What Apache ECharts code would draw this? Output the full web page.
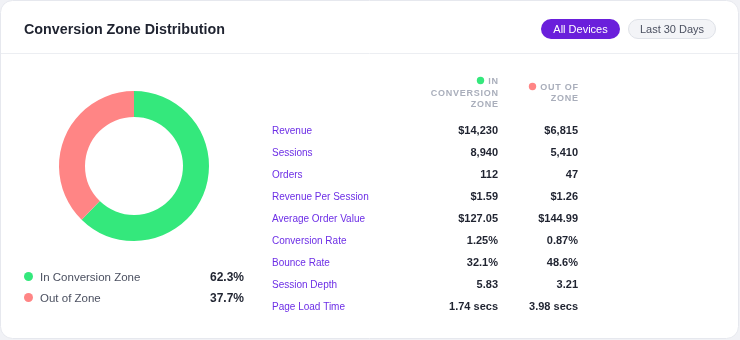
<!DOCTYPE html>
<html>
<head>
<meta charset="utf-8">
<script src="https://cdn.jsdelivr.net/npm/echarts@6/dist/echarts.min.js"></script>
<style>
html,body{margin:0;padding:0;background:#f1f2f6;}
#c{width:740px;height:340px;}
</style>
</head>
<body>
<div id="c"></div>
<script>
const title = "Conversion Zone Distribution";
const buttons = ["All Devices", "Last 30 Days"];
const zoneNames = ["In Conversion Zone", "Out of Zone"];
const zoneShares = [62.3, 37.7];
const zoneColors = ["#34e87c", "#ff8585"];
const columnHeaders = [["IN", "CONVERSION", "ZONE"], ["OUT OF", "ZONE"]];
const metrics = ["Revenue", "Sessions", "Orders", "Revenue Per Session", "Average Order Value", "Conversion Rate", "Bounce Rate", "Session Depth", "Page Load Time"];
const inZone = ["$14,230", "8,940", "112", "$1.59", "$127.05", "1.25%", "32.1%", "5.83", "1.74 secs"];
const outZone = ["$6,815", "5,410", "47", "$1.26", "$144.99", "0.87%", "48.6%", "3.21", "3.98 secs"];

const FONT = '"Liberation Sans", Arial, Helvetica, sans-serif';
const chart = echarts.init(document.getElementById('c'));
const DY = 1;

const g = [];
// card
g.push({type:'rect', shape:{x:0.5,y:0.5,width:738,height:338,r:12}, style:{fill:'#fff', stroke:'#e6e8ee', lineWidth:1}, z:-10});
g.push({type:'line', shape:{x1:1,y1:53.5,x2:738,y2:53.5}, style:{stroke:'#eceef2', lineWidth:1}, z:-5});
g.push({type:'text', x:24, y:29+DY, style:{text:title, font:'bold 14.3px '+FONT, fill:'#1f2330', textVerticalAlign:'middle'}});
// buttons
g.push({type:'rect', shape:{x:541,y:19,width:79,height:20,r:10}, style:{fill:'#6a1fdb'}});
g.push({type:'text', x:580.5, y:29+DY, style:{text:buttons[0], font:'11px '+FONT, fill:'#fff', textAlign:'center', textVerticalAlign:'middle'}});
g.push({type:'rect', shape:{x:628.5,y:19.5,width:87,height:19,r:9.5}, style:{fill:'#f3f4f7', stroke:'#dfe2e8', lineWidth:1}});
g.push({type:'text', x:672, y:29+DY, style:{text:buttons[1], font:'11px '+FONT, fill:'#4b5060', textAlign:'center', textVerticalAlign:'middle'}});

// legend
zoneNames.forEach((n,i)=>{
  const y = 277 + i*21;
  g.push({type:'circle', shape:{cx:28.5,cy:y-0.5,r:4.5}, style:{fill:zoneColors[i]}});
  g.push({type:'text', x:40, y:y+DY, style:{text:n, font:'11.5px '+FONT, fill:'#4b5060', textVerticalAlign:'middle'}});
  g.push({type:'text', x:244, y:y+DY, style:{text:zoneShares[i].toFixed(1)+'%', font:'bold 12px '+FONT, fill:'#1f2330', textAlign:'right', textVerticalAlign:'middle'}});
});

// table headers
const colX = [498, 578];
const hdrY = [[81,93,104],[87,98]];
columnHeaders.forEach((lines,ci)=>{
  lines.forEach((t,li)=>{
    g.push({type:'text', x:colX[ci], y:hdrY[ci][li]+0.5, style:{text:t.split('').join('\u200A'), font:'bold 9px '+FONT, fill:'#a9aebb', textAlign:'right', textVerticalAlign:'middle'}});
  });
});
g.push({type:'circle', shape:{cx:480.5,cy:80.5,r:3.7}, style:{fill:zoneColors[0]}});
g.push({type:'circle', shape:{cx:532.5,cy:86.5,r:3.7}, style:{fill:zoneColors[1]}});

metrics.forEach((m,i)=>{
  const y = 130 + i*22 + DY;
  g.push({type:'text', x:272, y:y, style:{text:m, font:'10px '+FONT, fill:'#6d2fe6', textVerticalAlign:'middle'}});
  g.push({type:'text', x:colX[0], y:y, style:{text:inZone[i], font:'bold 11px '+FONT, fill:'#1f2330', textAlign:'right', textVerticalAlign:'middle'}});
  g.push({type:'text', x:colX[1], y:y, style:{text:outZone[i], font:'bold 11px '+FONT, fill:'#1f2330', textAlign:'right', textVerticalAlign:'middle'}});
});

chart.setOption({
  animation:false,
  graphic:{elements:g},
  series:[{
    type:'pie',
    center:[134,166],
    radius:[49,75],
    startAngle:90,
    clockwise:true,
    label:{show:false},
    labelLine:{show:false},
    emphasis:{disabled:true},
    data: zoneNames.map((n,i)=>({name:n, value:zoneShares[i], itemStyle:{color:zoneColors[i]}}))
  }]
});
</script>
</body>
</html>
